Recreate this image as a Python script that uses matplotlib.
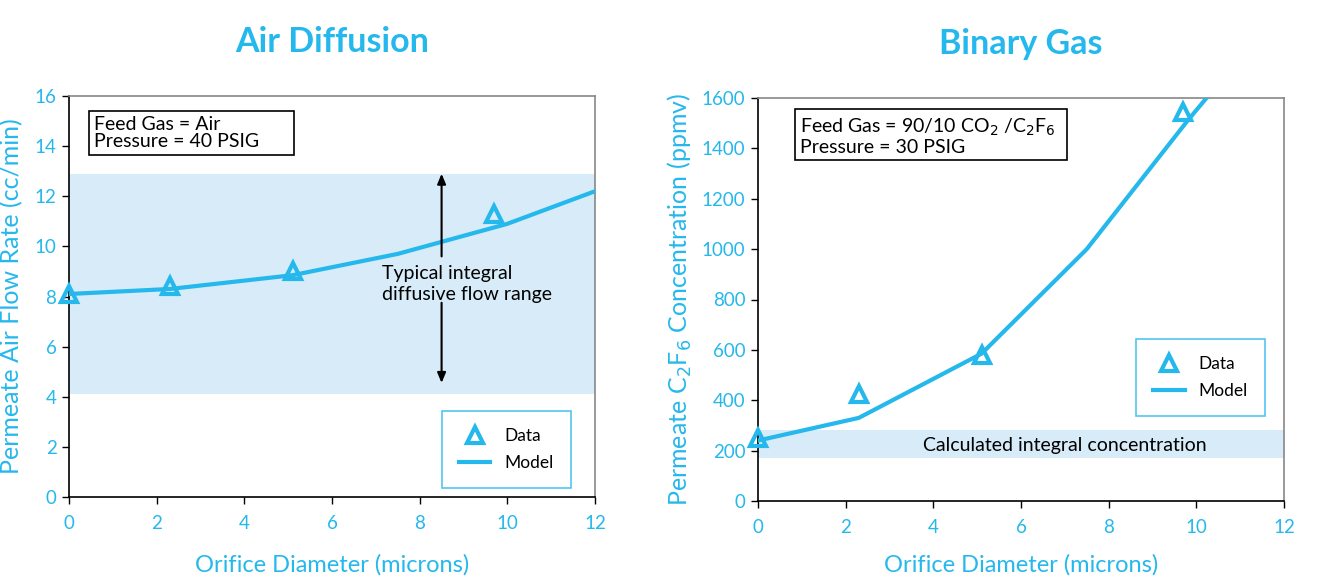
import numpy as np
import matplotlib
matplotlib.use("Agg")
import matplotlib.pyplot as plt

plt.rcParams['font.family'] = ['Lato', 'DejaVu Sans']

# air diffusion
air_data_x = [0, 2.3, 5.1, 9.7]
air_data_y = [8.1, 8.4, 9.0, 11.3]
air_model_x = [0, 2.3, 5.1, 7.5, 10, 12]
air_model_y = [8.1, 8.3, 8.85, 9.7, 10.9, 12.2]
air_band = (4.1, 12.9)

# binary gas
bin_data_x = [0, 2.3, 5.1, 9.7]
bin_data_y = [250, 425, 580, 1545]
bin_model_x = [0, 2.3, 5.1, 7.5, 9.8, 11]
bin_model_y = [240, 330, 585, 1000, 1510, 1760]
bin_band = (170, 280)

x_ticks = [0, 2, 4, 6, 8, 10, 12]

blue = '#25B8EC'
band_col = '#D7ECF8'

fig = plt.figure(figsize=(13.38, 5.8), dpi=100)
ax1 = fig.add_axes([69/1338, 1 - 497/580, 526/1338, 401/580])
ax2 = fig.add_axes([758/1338, 1 - 501/580, 526/1338, 403/580])


def style(ax, xpad):
    for s in ['top', 'right']:
        ax.spines[s].set_color('#888888')
    for s in ['left', 'bottom']:
        ax.spines[s].set_color('black')
    for s in ax.spines.values():
        s.set_linewidth(1.2)
    ax.tick_params(colors=blue, labelsize=13.5, length=5, width=1)
    ax.tick_params(axis='both', color='black')
    ax.tick_params(axis='x', pad=8)
    ax.tick_params(axis='y', pad=4)
    ax.set_xticks(x_ticks)
    ax.set_xlim(0, 12)
    ax.set_xlabel('Orifice Diameter (microns)', color=blue, fontsize=17, labelpad=xpad)


def make_legend(ax, anchor):
    h, l = ax.get_legend_handles_labels()
    leg = ax.legend(h[::-1], l[::-1], loc='lower right', bbox_to_anchor=anchor,
                    borderaxespad=0, fontsize=12.5, frameon=True, fancybox=False,
                    borderpad=1.0, handlelength=1.8, labelspacing=0.6)
    leg.get_frame().set_edgecolor(blue)
    leg.get_frame().set_linewidth(1.2)


# left chart
ax1.axhspan(air_band[0], air_band[1], color=band_col, zorder=0, lw=0)
ax1.plot(air_model_x, air_model_y, color=blue, lw=3, label='Model', zorder=3)
ax1.plot(air_data_x, air_data_y, ls='none', marker='^', ms=11, mfc='none',
         mec=blue, mew=3, label='Data', zorder=4, clip_on=False)
ax1.set_ylim(0, 16)
ax1.set_yticks(range(0, 17, 2))
style(ax1, 16)
ax1.set_ylabel('Permeate Air Flow Rate (cc/min)', color=blue, fontsize=18, labelpad=8)
ax1.set_title('Air Diffusion', color=blue, fontsize=24.5, fontweight='bold', pad=32)
ax1.annotate('', xy=(8.5, 12.9), xytext=(8.5, 9.6),
             arrowprops=dict(arrowstyle='-|>,head_length=0.6,head_width=0.25',
                             color='black', lw=1.5, shrinkA=0, shrinkB=0))
ax1.annotate('', xy=(8.5, 4.55), xytext=(8.5, 7.75),
             arrowprops=dict(arrowstyle='-|>,head_length=0.6,head_width=0.25',
                             color='black', lw=1.5, shrinkA=0, shrinkB=0))
ax1.text(7.15, 8.5, 'Typical integral\ndiffusive flow range', fontsize=14,
         va='center', ha='left', linespacing=1.3)
ax1.text(0.57, 14.52, 'Feed Gas = Air            \nPressure = 40 PSIG      ', fontsize=14,
         va='center', ha='left', linespacing=1.05,
         bbox=dict(boxstyle='square,pad=0.25', fc='white', ec='black', lw=1.2))
make_legend(ax1, (0.954, 0.022))

# right chart
ax2.axhspan(bin_band[0], bin_band[1], color=band_col, zorder=0, lw=0)
ax2.plot(bin_model_x, bin_model_y, color=blue, lw=3, label='Model', zorder=3)
ax2.plot(bin_data_x, bin_data_y, ls='none', marker='^', ms=11, mfc='none',
         mec=blue, mew=3, label='Data', zorder=4, clip_on=False)
ax2.set_ylim(0, 1600)
ax2.set_yticks(range(0, 1601, 200))
style(ax2, 13)
ax2.set_ylabel('Permeate C$_2$F$_6$ Concentration (ppmv)', color=blue, fontsize=18, labelpad=6)
ax2.set_title('Binary Gas', color=blue, fontsize=24.5, fontweight='bold', pad=32)
ax2.text(7.0, 220, 'Calculated integral concentration', fontsize=14,
         va='center', ha='center')
ax2.text(0.96, 1449, 'Feed Gas = 90/10 CO$_2$ /C$_2$F$_6$  \nPressure = 30 PSIG', fontsize=14,
         va='center', ha='left', linespacing=1.05,
         bbox=dict(boxstyle='square,pad=0.25', fc='white', ec='black', lw=1.2))
make_legend(ax2, (0.964, 0.211))

fig.savefig('out.png', dpi=100)
